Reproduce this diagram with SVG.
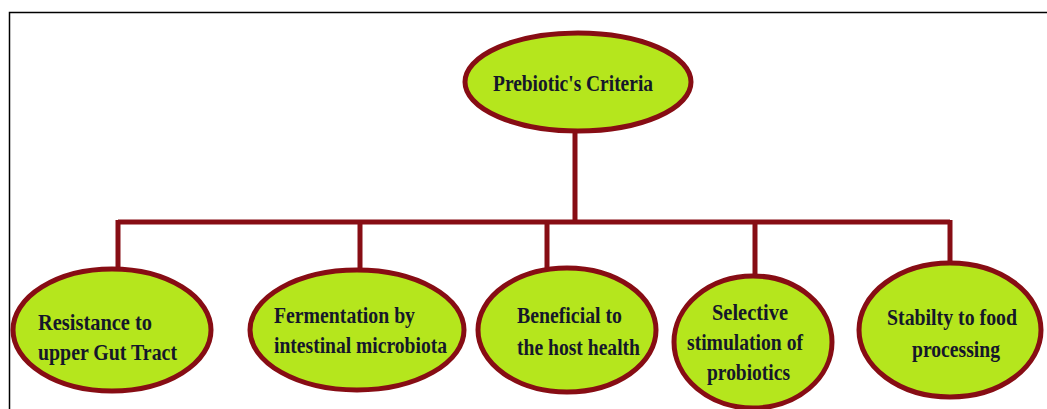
<svg xmlns="http://www.w3.org/2000/svg" width="1047" height="409" viewBox="0 0 1047 409">
<style>
.node ellipse{fill:#b5e61d;stroke:#870d14;stroke-width:5}
.conn{stroke:#870d14;stroke-width:5;fill:none}
text{font-family:"Liberation Serif","Times New Roman",serif;font-weight:bold;font-size:24px;fill:#15172a}
</style>
<rect x="0" y="0" width="1047" height="409" fill="#fff"/>
<path d="M9.5 409 V12.5 H1047" fill="none" stroke="#000" stroke-width="1.5"/>
<g id="connectors">
<path class="conn" d="M575 130 V222"/>
<path class="conn" d="M118 222 H950"/>
<path class="conn" d="M118 220 V270"/>
<path class="conn" d="M360 222 V270"/>
<path class="conn" d="M547 222 V268"/>
<path class="conn" d="M755 222 V276"/>
<path class="conn" d="M950 220 V264"/>
</g>
<g id="root" class="node">
<ellipse cx="578" cy="82" rx="113" ry="49"/>
<text x="493" y="91" textLength="160" lengthAdjust="spacingAndGlyphs">Prebiotic's Criteria</text>
</g>
<g id="n1" class="node">
<ellipse cx="112" cy="330" rx="99" ry="61"/>
<text x="38" y="330" textLength="114" lengthAdjust="spacingAndGlyphs">Resistance to</text>
<text x="38" y="360" textLength="139" lengthAdjust="spacingAndGlyphs">upper Gut Tract</text>
</g>
<g id="n2" class="node">
<ellipse cx="357" cy="330" rx="107" ry="60"/>
<text x="274" y="323" textLength="141" lengthAdjust="spacingAndGlyphs">Fermentation by</text>
<text x="274" y="353" textLength="173" lengthAdjust="spacingAndGlyphs">intestinal microbiota</text>
</g>
<g id="n3" class="node">
<ellipse cx="567" cy="330" rx="89" ry="62"/>
<text x="517" y="323" textLength="105" lengthAdjust="spacingAndGlyphs">Beneficial to</text>
<text x="517" y="355" textLength="123" lengthAdjust="spacingAndGlyphs">the host health</text>
</g>
<g id="n4" class="node">
<ellipse cx="753" cy="342" rx="79" ry="66"/>
<text x="712" y="320" textLength="76" lengthAdjust="spacingAndGlyphs">Selective</text>
<text x="687" y="350" textLength="116" lengthAdjust="spacingAndGlyphs">stimulation of</text>
<text x="707" y="380" textLength="83" lengthAdjust="spacingAndGlyphs">probiotics</text>
</g>
<g id="n5" class="node">
<ellipse cx="950" cy="330" rx="91" ry="67"/>
<text x="887" y="325" textLength="130" lengthAdjust="spacingAndGlyphs">Stabilty to food</text>
<text x="912" y="357" textLength="88" lengthAdjust="spacingAndGlyphs">processing</text>
</g>
</svg>
